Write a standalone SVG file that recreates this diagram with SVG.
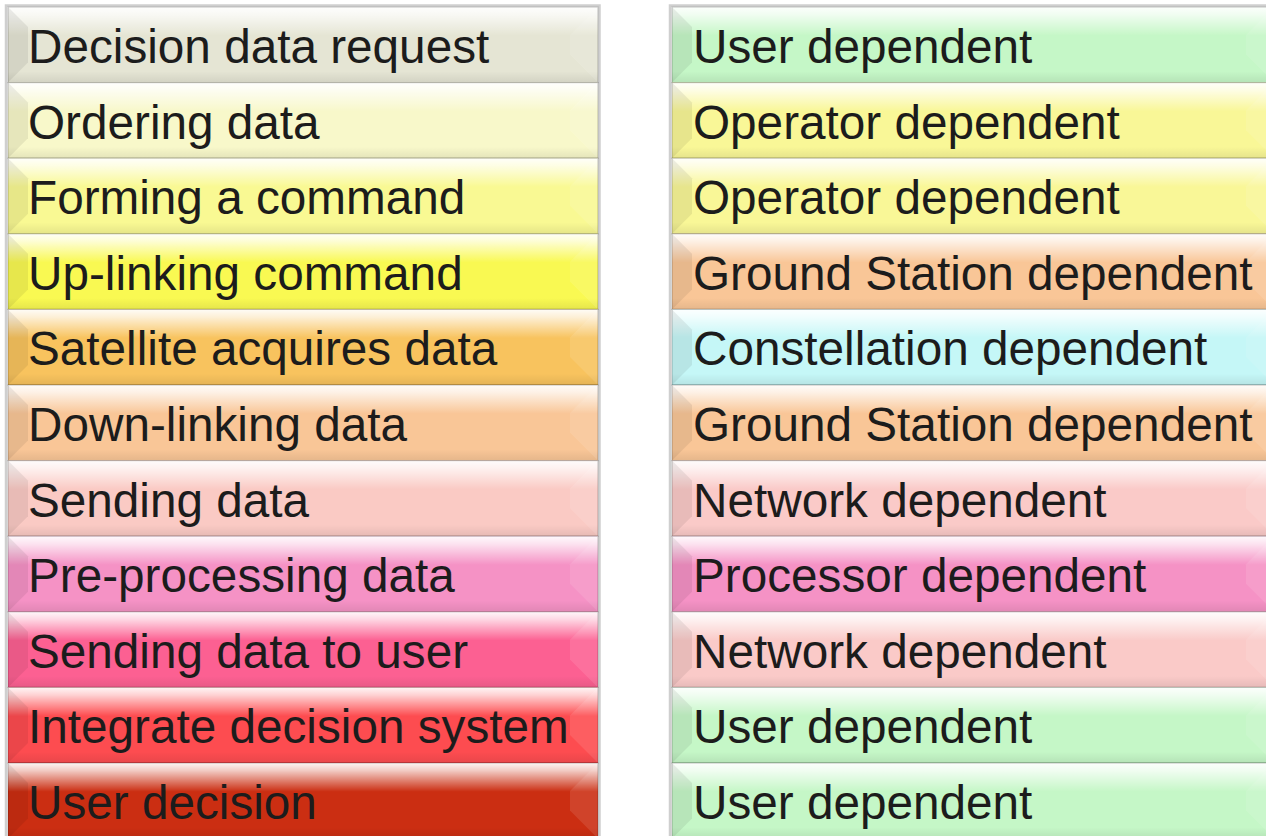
<svg xmlns="http://www.w3.org/2000/svg" xmlns:xlink="http://www.w3.org/1999/xlink" width="1266" height="836" viewBox="0 0 1266 836">
<style>
.t{font-family:"Liberation Sans",Arial,sans-serif;font-size:47.7px;fill:#1c1c1c}
.frame{fill:#ffffff;stroke:#cfcfcf;stroke-width:2.5}
.edge{fill:none;stroke:#000;stroke-opacity:0.2;stroke-width:1.2}
.lf{fill:#000;fill-opacity:0.07}
.rf{fill:#fff;fill-opacity:0.1}
</style>
<defs>
<linearGradient id="hl" x1="0" y1="0" x2="0" y2="1">
<stop offset="0" stop-color="#fff" stop-opacity="0.95"/>
<stop offset="0.1" stop-color="#fff" stop-opacity="0.75"/>
<stop offset="0.38" stop-color="#fff" stop-opacity="0"/>
<stop offset="0.85" stop-color="#000" stop-opacity="0"/>
<stop offset="1" stop-color="#000" stop-opacity="0.08"/>
</linearGradient>
<g id="bevL">
<rect x="0" y="0" width="590" height="75.6" fill="url(#hl)"/>
<polygon class="lf" points="0,0 20,20 20,55.6 0,75.6"/>
<polygon class="rf" points="590,0 562,28 562,47.6 590,75.6"/>
<rect class="edge" x="0" y="0" width="590" height="75.6"/>
</g>
<g id="bevR">
<rect x="0" y="0" width="602" height="75.6" fill="url(#hl)"/>
<polygon class="lf" points="0,0 20,20 20,55.6 0,75.6"/>
<polygon class="rf" points="602,0 574,28 574,47.6 602,75.6"/>
<rect class="edge" x="0" y="0" width="602" height="75.6"/>
</g>
</defs>
<rect width="1266" height="836" fill="#fff"/>
<rect class="frame" x="6" y="5.5" width="593.5" height="840"/>
<rect class="frame" x="670" y="5.5" width="610" height="840"/>

<g id="connectors"/>

<g id="l1"><rect x="8" y="7" width="590" height="75.6" fill="#e5e5d4"/><use xlink:href="#bevL" x="8" y="7"/><text class="t" x="28" y="63">Decision data request</text></g>
<g id="l2"><rect x="8" y="82.6" width="590" height="75.6" fill="#f8f8ca"/><use xlink:href="#bevL" x="8" y="82.6"/><text class="t" x="28" y="138.6">Ordering data</text></g>
<g id="l3"><rect x="8" y="158.2" width="590" height="75.6" fill="#f9f993"/><use xlink:href="#bevL" x="8" y="158.2"/><text class="t" x="28" y="214.2">Forming a command</text></g>
<g id="l4"><rect x="8" y="233.8" width="590" height="75.6" fill="#f9f952"/><use xlink:href="#bevL" x="8" y="233.8"/><text class="t" x="28" y="289.8">Up-linking command</text></g>
<g id="l5"><rect x="8" y="309.4" width="590" height="75.6" fill="#f8c35e"/><use xlink:href="#bevL" x="8" y="309.4"/><text class="t" x="28" y="365.4">Satellite acquires data</text></g>
<g id="l6"><rect x="8" y="385" width="590" height="75.6" fill="#f9c697"/><use xlink:href="#bevL" x="8" y="385"/><text class="t" x="28" y="441">Down-linking data</text></g>
<g id="l7"><rect x="8" y="460.6" width="590" height="75.6" fill="#facac4"/><use xlink:href="#bevL" x="8" y="460.6"/><text class="t" x="28" y="516.6">Sending data</text></g>
<g id="l8"><rect x="8" y="536.2" width="590" height="75.6" fill="#f592c5"/><use xlink:href="#bevL" x="8" y="536.2"/><text class="t" x="28" y="592.2">Pre-processing data</text></g>
<g id="l9"><rect x="8" y="611.8" width="590" height="75.6" fill="#fc6092"/><use xlink:href="#bevL" x="8" y="611.8"/><text class="t" x="28" y="667.8">Sending data to user</text></g>
<g id="l10"><rect x="8" y="687.4" width="590" height="75.6" fill="#fd4c50"/><use xlink:href="#bevL" x="8" y="687.4"/><text class="t" x="28" y="743.4">Integrate decision system</text></g>
<g id="l11"><rect x="8" y="763" width="590" height="75.6" fill="#cb2e12"/><use xlink:href="#bevL" x="8" y="763"/><text class="t" x="28" y="819">User decision</text></g>

<g id="r1"><rect x="672" y="7" width="602" height="75.6" fill="#c5f7c7"/><use xlink:href="#bevR" x="672" y="7"/><text class="t" x="693" y="63">User dependent</text></g>
<g id="r2"><rect x="672" y="82.6" width="602" height="75.6" fill="#f9f797"/><use xlink:href="#bevR" x="672" y="82.6"/><text class="t" x="693" y="138.6">Operator dependent</text></g>
<g id="r3"><rect x="672" y="158.2" width="602" height="75.6" fill="#f9f797"/><use xlink:href="#bevR" x="672" y="158.2"/><text class="t" x="693" y="214.2">Operator dependent</text></g>
<g id="r4"><rect x="672" y="233.8" width="602" height="75.6" fill="#f9c697"/><use xlink:href="#bevR" x="672" y="233.8"/><text class="t" x="693" y="289.8">Ground Station dependent</text></g>
<g id="r5"><rect x="672" y="309.4" width="602" height="75.6" fill="#c5f7f7"/><use xlink:href="#bevR" x="672" y="309.4"/><text class="t" x="693" y="365.4">Constellation dependent</text></g>
<g id="r6"><rect x="672" y="385" width="602" height="75.6" fill="#f9c697"/><use xlink:href="#bevR" x="672" y="385"/><text class="t" x="693" y="441">Ground Station dependent</text></g>
<g id="r7"><rect x="672" y="460.6" width="602" height="75.6" fill="#facac8"/><use xlink:href="#bevR" x="672" y="460.6"/><text class="t" x="693" y="516.6">Network dependent</text></g>
<g id="r8"><rect x="672" y="536.2" width="602" height="75.6" fill="#f592c5"/><use xlink:href="#bevR" x="672" y="536.2"/><text class="t" x="693" y="592.2">Processor dependent</text></g>
<g id="r9"><rect x="672" y="611.8" width="602" height="75.6" fill="#facac8"/><use xlink:href="#bevR" x="672" y="611.8"/><text class="t" x="693" y="667.8">Network dependent</text></g>
<g id="r10"><rect x="672" y="687.4" width="602" height="75.6" fill="#c5f7c7"/><use xlink:href="#bevR" x="672" y="687.4"/><text class="t" x="693" y="743.4">User dependent</text></g>
<g id="r11"><rect x="672" y="763" width="602" height="75.6" fill="#c5f7c7"/><use xlink:href="#bevR" x="672" y="763"/><text class="t" x="693" y="819">User dependent</text></g>
</svg>
